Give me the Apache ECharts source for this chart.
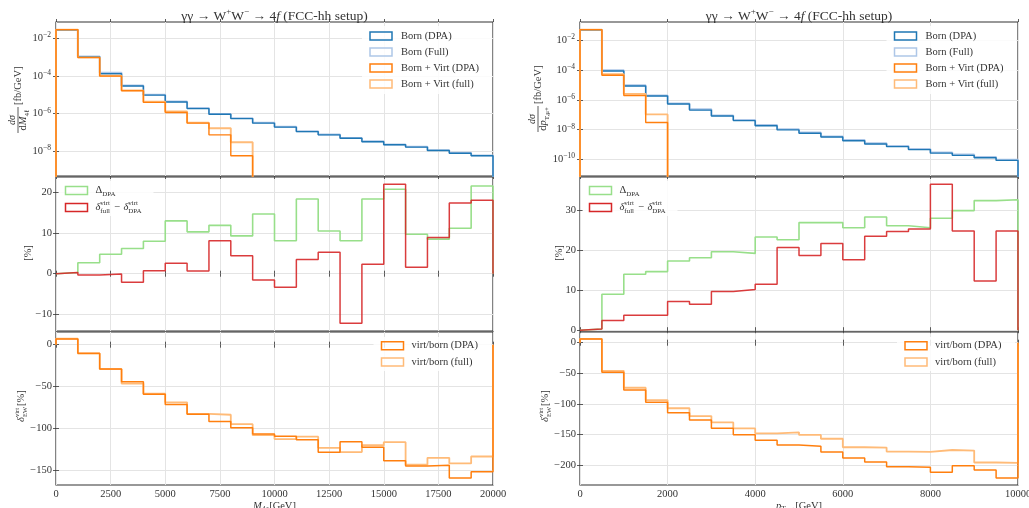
<!DOCTYPE html>
<html>
<head>
<meta charset="utf-8">
<script src="https://cdn.jsdelivr.net/npm/echarts@6/dist/echarts.min.js"></script>
<style>
  html, body { margin: 0; padding: 0; background: #ffffff; }
  #chart { width: 1029px; height: 508px; }
</style>
</head>
<body>
<div id="chart"></div>
<script>
// ---- binning -------------------------------------------------------------
const massEdges = [0, 1000, 2000, 3000, 4000, 5000, 6000, 7000, 8000, 9000, 10000,
                   11000, 12000, 13000, 14000, 15000, 16000, 17000, 18000, 19000, 20000];
const ptEdges = [0, 500, 1000, 1500, 2000, 2500, 3000, 3500, 4000, 4500, 5000,
                 5500, 6000, 6500, 7000, 7500, 8000, 8500, 9000, 9500, 10000];

// ---- tick values ----------------------------------------------------------
const massTicks = [0, 2500, 5000, 7500, 10000, 12500, 15000, 17500, 20000];
const ptTicks = [0, 2000, 4000, 6000, 8000, 10000];
const massXsecTicks = [1e-8, 1e-6, 1e-4, 1e-2];
const ptXsecTicks = [1e-10, 1e-8, 1e-6, 1e-4, 1e-2];
const massDeltaTicks = [-10, 0, 10, 20];
const ptDeltaTicks = [0, 10, 20, 30];
const massVirtTicks = [-150, -100, -50, 0];
const ptVirtTicks = [-200, -150, -100, -50, 0];

// ---- dsigma/dM_4l [fb/GeV] -------------------------------------------------
const massBornDPA = [2.63e-2, 1.02e-3, 1.29e-4, 2.88e-5, 9.5e-6, 4.07e-6, 1.82e-6, 9.1e-7, 5.4e-7, 3.1e-7,
                     1.9e-7, 1.1e-7, 7.4e-8, 4.9e-8, 3.2e-8, 2.2e-8, 1.66e-8, 1.1e-8, 7.9e-9, 5.8e-9];
const massBornFull = [2.63e-2, 1.05e-3, 1.45e-4, 3.1e-5, 1.0e-5, 4.4e-6, 1.95e-6, 9.6e-7, 5.7e-7, 3.3e-7,
                      2.0e-7, 1.15e-7, 7.8e-8, 5.1e-8, 3.4e-8, 2.3e-8, 1.75e-8, 1.15e-8, 8.3e-9, 6.1e-9];
const massVirtDPA = [2.8e-2, 9.2e-4, 9.6e-5, 1.62e-5, 3.9e-6, 1.14e-6, 3.1e-7, 7.4e-8, 5.8e-9];
const massVirtFull = [2.8e-2, 9.4e-4, 1.0e-4, 1.68e-5, 4.2e-6, 1.3e-6, 3.3e-7, 1.66e-7, 3.0e-8];

// ---- dsigma/dpT,mu+ [fb/GeV] -----------------------------------------------
const ptBornDPA = [4.9e-2, 8.7e-5, 8.5e-6, 1.82e-6, 5.2e-7, 2.04e-7, 8.1e-8, 4.0e-8, 1.82e-8, 9.5e-9,
                   5.6e-9, 3.16e-9, 1.78e-9, 1.07e-9, 7.1e-10, 4.5e-10, 2.6e-10, 1.86e-10, 1.29e-10, 8.5e-11];
const ptBornFull = [4.9e-2, 9.8e-5, 9.5e-6, 2.0e-6, 5.8e-7, 2.3e-7, 9.0e-8, 4.5e-8, 2.05e-8, 1.07e-8,
                    6.3e-9, 3.5e-9, 2.0e-9, 1.2e-9, 8.0e-10, 5.0e-10, 2.95e-10, 2.1e-10, 1.45e-10, 9.6e-11];
const ptVirtDPA = [5.2e-2, 4.5e-5, 1.96e-6, 3.0e-8];
const ptVirtFull = [5.2e-2, 5.2e-5, 2.5e-6, 1.05e-7];

// ---- relative differences [%] ---------------------------------------------
const massDeltaDPA = [0.3, 2.7, 4.8, 6.2, 8.0, 13.0, 10.3, 11.9, 9.3, 14.7,
                      8.1, 18.4, 10.5, 8.1, 18.4, 20.8, 9.7, 8.5, 11.2, 21.6];
const massVirtDiff = [0.3, -0.3, -0.1, -2.1, 0.75, 2.55, 0.65, 8.1, 4.4, -1.55,
                      -3.35, 3.5, 5.3, -12.2, 2.3, 22.0, 1.6, 8.9, 17.4, 18.1];
const ptDeltaDPA = [0.3, 9.0, 14.0, 14.65, 17.3, 18.1, 19.6, 19.2, 23.3, 22.6,
                    26.9, 26.9, 25.6, 28.3, 26.1, 25.6, 28.0, 29.9, 32.4, 32.6];
const ptVirtDiff = [0.3, 2.4, 3.75, 3.75, 7.2, 6.5, 9.7, 10.2, 11.5, 20.7,
                    18.7, 21.7, 17.6, 23.5, 24.7, 25.3, 36.5, 24.8, 12.3, 24.8];

// ---- virtual / Born [%] ---------------------------------------------------
const massRatioDPA = [6.8, -10.3, -28.9, -44.2, -59.1, -71.2, -82.9, -91.5, -99.0, -106.2,
                      -109.0, -113.0, -128.0, -115.6, -122.0, -138.0, -144.4, -143.6, -158.7, -151.2];
const massRatioFull = [7.1, -10.6, -29.0, -46.3, -58.4, -68.6, -82.3, -83.4, -94.6, -107.7,
                       -112.3, -109.5, -122.7, -127.8, -119.7, -116.0, -142.8, -134.7, -141.3, -133.1];
const ptRatioDPA = [6.0, -48.4, -77.3, -97.4, -114.3, -126.3, -139.9, -150.3, -159.5, -167.2,
                    -169.3, -178.6, -188.4, -194.9, -202.6, -203.6, -211.8, -201.0, -208.0, -221.0];
const ptRatioFull = [6.3, -46.0, -73.6, -93.7, -107.1, -119.8, -130.2, -140.1, -148.0, -146.5,
                     -150.6, -156.9, -170.8, -171.4, -177.9, -178.3, -175.3, -176.2, -195.7, -196.2];

// ---- style ----------------------------------------------------------------
const SERIF = '"Liberation Serif", "DejaVu Serif", serif';
const INK = '#333333';
const GRIDLINE = '#e4e4e4';
const C = {
  blue: '#1f77b4', lightBlue: '#aec7e8',
  orange: '#ff7f0e', lightOrange: '#ffbb78',
  green: '#98df8a', red: '#d62728'
};
const LOG_FLOOR = 1e-30;   // empty bins on the log panels drop out of view

// Step outline of a histogram, closed to the baseline at both ends.
function stairs(edges, vals, base) {
  const pts = [[edges[0], base]];
  vals.forEach((v, i) => pts.push([edges[i], v]));
  const n = vals.length;
  pts.push([edges[n], vals[n - 1]]);
  pts.push([edges[n], base]);
  return pts;
}

function hist(name, grid, edges, vals, base, color, width, opacity, z) {
  return {
    name, type: 'line', xAxisIndex: grid, yAxisIndex: grid,
    step: 'end', data: stairs(edges, vals, base),
    symbol: 'none', showSymbol: false, silent: true, animation: false,
    clip: true, z: z,
    lineStyle: { color, width, opacity: opacity },
    itemStyle: { color }
  };
}

// ---- layout: two columns, three stacked panels each ------------------------
const cols = [{ left: 56, width: 437 }, { left: 580, width: 438 }];
const rows = [{ top: 22, height: 154 }, { top: 177, height: 154 }, { top: 332, height: 153 }];

const grids = [];
cols.forEach(c => rows.forEach(r => grids.push({
  left: c.left, top: r.top, width: c.width, height: r.height,
  show: true, borderColor: '#333333', borderWidth: 1.2, backgroundColor: 'transparent',
  containLabel: false, outerBoundsMode: 'none'
})));

const labelFont = { fontFamily: SERIF, fontSize: 10.5, color: INK };
const minus = s => String(s).replace('-', '\u2212');
const tickLine = { color: INK, width: 0.8 };

function xAxis(grid, max, ticks, showLabels, nameRich) {
  const ax = {
    type: 'value', gridIndex: grid, min: 0, max: max, position: 'bottom',
    axisLine: { show: false },
    axisTick: { show: true, length: 3, inside: false, customValues: ticks, lineStyle: tickLine },
    axisLabel: Object.assign({ show: showLabels, margin: 4, customValues: ticks, formatter: v => minus(v) }, labelFont),
    splitLine: { show: true, lineStyle: { color: GRIDLINE, width: 1 } }
  };
  if (nameRich) {
    ax.name = nameRich.text;
    ax.nameLocation = 'middle';
    ax.nameGap = 12;
    ax.nameTextStyle = { fontFamily: SERIF, fontSize: 10.5, color: INK, rich: nameRich.rich };
  }
  return ax;
}

function yAxisLinear(grid, min, max, ticks) {
  return {
    type: 'value', gridIndex: grid, min: min, max: max, position: 'left',
    axisLine: { show: false },
    axisTick: { show: true, length: 3, customValues: ticks, lineStyle: tickLine },
    axisLabel: Object.assign({ margin: 4, customValues: ticks, formatter: v => minus(v) }, labelFont),
    splitLine: { show: true, lineStyle: { color: GRIDLINE, width: 1 } }
  };
}

function yAxisLog(grid, minExp, maxExp, ticks) {
  return {
    type: 'log', logBase: 10, gridIndex: grid, position: 'left',
    min: Math.pow(10, minExp), max: Math.pow(10, maxExp),
    axisLine: { show: false },
    axisTick: { show: true, length: 3, customValues: ticks, lineStyle: tickLine },
    axisLabel: Object.assign({
      margin: 5, customValues: ticks,
      formatter: v => '{b|10}{e|' + minus(Math.round(Math.log10(v))) + '}',
      rich: {
        b: { fontFamily: SERIF, fontSize: 10.5, color: INK, lineHeight: 14 },
        e: { fontFamily: SERIF, fontSize: 7.5, color: INK, verticalAlign: 'top', lineHeight: 14 }
      }
    }, labelFont),
    splitLine: { show: true, lineStyle: { color: GRIDLINE, width: 1 } }
  };
}

// tick-only copy of an axis on the opposite side of its panel
function mirror(ax, position) {
  const m = Object.assign({}, ax);
  m.position = position;
  m.name = undefined;
  m.axisLabel = { show: false };
  m.splitLine = { show: false };
  m.axisTick = Object.assign({}, ax.axisTick);
  return m;
}

const subRich = {
  n: { fontFamily: SERIF, fontSize: 10.5, color: INK },
  i: { fontFamily: SERIF, fontSize: 10.5, fontStyle: 'italic', color: INK },
  s: { fontFamily: SERIF, fontSize: 7.5, color: INK, verticalAlign: 'bottom', lineHeight: 15 }
};

const xMain = [
  xAxis(0, 20000, massTicks, false),
  xAxis(1, 20000, massTicks, false),
  xAxis(2, 20000, massTicks, true, { text: '{i|M}{s|4\u2113}{n|[GeV]}', rich: subRich }),
  xAxis(3, 10000, ptTicks, false),
  xAxis(4, 10000, ptTicks, false),
  xAxis(5, 10000, ptTicks, true, { text: '{i|p}{s|T,\u03bc+}{n|[GeV]}', rich: subRich })
];

const yMain = [
  yAxisLog(0, -9.31, -1.15, massXsecTicks),
  yAxisLinear(1, -14.1, 23.8, massDeltaTicks),
  yAxisLinear(2, -167, 15.1, massVirtTicks),
  yAxisLog(3, -11.12, -0.77, ptXsecTicks),
  yAxisLinear(4, -0.2, 38.3, ptDeltaTicks),
  yAxisLinear(5, -232.5, 17.5, ptVirtTicks)
];

const xAxes = xMain.concat(xMain.map(a => mirror(a, 'top')));
const yAxes = yMain.concat(yMain.map(a => mirror(a, 'right')));

const series = [
  // mass column
  hist('Born (Full)', 0, massEdges, massBornFull, LOG_FLOOR, C.lightBlue, 1.9, 1, 2),
  hist('Born (DPA)', 0, massEdges, massBornDPA, LOG_FLOOR, C.blue, 1.4, 1, 3),
  hist('Born + Virt (full)', 0, massEdges, massVirtFull, LOG_FLOOR, C.lightOrange, 1.9, 1, 4),
  hist('Born + Virt (DPA)', 0, massEdges, massVirtDPA, LOG_FLOOR, C.orange, 1.4, 1, 5),
  hist('Delta DPA', 1, massEdges, massDeltaDPA, 0, C.green, 1.6, 1, 2),
  hist('delta full - delta DPA', 1, massEdges, massVirtDiff, 0, C.red, 1.5, 0.9, 3),
  hist('virt/born (full)', 2, massEdges, massRatioFull, 0, C.lightOrange, 1.8, 1, 2),
  hist('virt/born (DPA)', 2, massEdges, massRatioDPA, 0, C.orange, 1.5, 1, 3),
  // transverse-momentum column
  hist('Born (Full)', 3, ptEdges, ptBornFull, LOG_FLOOR, C.lightBlue, 1.9, 1, 2),
  hist('Born (DPA)', 3, ptEdges, ptBornDPA, LOG_FLOOR, C.blue, 1.4, 1, 3),
  hist('Born + Virt (full)', 3, ptEdges, ptVirtFull, LOG_FLOOR, C.lightOrange, 1.9, 1, 4),
  hist('Born + Virt (DPA)', 3, ptEdges, ptVirtDPA, LOG_FLOOR, C.orange, 1.4, 1, 5),
  hist('Delta DPA', 4, ptEdges, ptDeltaDPA, 0, C.green, 1.6, 1, 2),
  hist('delta full - delta DPA', 4, ptEdges, ptVirtDiff, 0, C.red, 1.5, 0.9, 3),
  hist('virt/born (full)', 5, ptEdges, ptRatioFull, 0, C.lightOrange, 1.8, 1, 2),
  hist('virt/born (DPA)', 5, ptEdges, ptRatioDPA, 0, C.orange, 1.5, 1, 3)
];

// ---- text helpers for titles, legends and rotated axis labels --------------
function txt(x, y, text, opt) {
  const style = Object.assign({
    text: text, fill: INK, fontFamily: SERIF, fontSize: 10.5,
    align: 'left', verticalAlign: 'middle', textAlign: 'left', textVerticalAlign: 'middle'
  }, opt || {});
  if (opt && opt.align) style.textAlign = opt.align;
  if (opt && opt.verticalAlign) style.textVerticalAlign = opt.verticalAlign;
  return { type: 'text', x: x, y: y, silent: true, style: style };
}

const gRich = {
  n: { fontFamily: SERIF, fontSize: 10.5, fill: INK, color: INK, lineHeight: 14 },
  i: { fontFamily: SERIF, fontSize: 10.5, fontStyle: 'italic', fill: INK, color: INK, lineHeight: 14 },
  s: { fontFamily: SERIF, fontSize: 7, fill: INK, color: INK, verticalAlign: 'bottom', lineHeight: 15 },
  p: { fontFamily: SERIF, fontSize: 7, fill: INK, color: INK, verticalAlign: 'top', lineHeight: 14 }
};

function richTxt(x, y, text, opt) {
  return txt(x, y, text, Object.assign({ rich: gRich }, opt || {}));
}

function title(cx) {
  const rich = {
    n: { fontFamily: SERIF, fontSize: 13.5, fill: INK, color: INK, lineHeight: 17 },
    i: { fontFamily: SERIF, fontSize: 13.5, fontStyle: 'italic', fill: INK, color: INK, lineHeight: 17 },
    s: { fontFamily: SERIF, fontSize: 9, fill: INK, color: INK, verticalAlign: 'top', lineHeight: 17 }
  };
  return txt(cx, 16, '{n|\u03b3\u03b3 \u2192 W}{s|+}{n|W}{s|\u2212}{n| \u2192 4}{i|f}{n| (FCC-hh setup)}',
             { rich: rich, align: 'center' });
}

function legendKey(x, y, color) {
  return { type: 'rect', silent: true, shape: { x: x, y: y - 4, width: 22, height: 8 },
           style: { fill: 'none', stroke: color, lineWidth: 1.5 } };
}

function legendBack(x, y, w, h) {
  return { type: 'rect', silent: true, shape: { x: x, y: y, width: w, height: h, r: 3 },
           style: { fill: '#ffffff', opacity: 0.85, stroke: 'none' } };
}

function xsecLegend(x) {
  const labels = ['Born (DPA)', 'Born (Full)', 'Born + Virt (DPA)', 'Born + Virt (full)'];
  const colors = [C.blue, C.lightBlue, C.orange, C.lightOrange];
  const els = [legendBack(x - 8, 26, 130, 68)];
  labels.forEach((t, k) => {
    els.push(legendKey(x, 36 + 16 * k, colors[k]));
    els.push(txt(x + 31, 36 + 16 * k, t));
  });
  return els;
}

function deltaLegend(x) {
  const tx = x + 30;
  const y1 = 190.5, y2 = 207.5;
  return [
    legendBack(x - 7, 181, 95, 35),
    legendKey(x, y1, C.green),
    richTxt(tx, y1, '{n|\u0394}{s|DPA}'),
    legendKey(x, y2, C.red),
    txt(tx, y2, '\u03b4', { fontStyle: 'italic' }),
    txt(tx + 4.8, y2 - 4, 'virt', { fontSize: 7 }),
    txt(tx + 4.8, y2 + 4, 'full', { fontSize: 7 }),
    txt(tx + 19, y2, '\u2212'),
    txt(tx + 28, y2, '\u03b4', { fontStyle: 'italic' }),
    txt(tx + 32.8, y2 - 4, 'virt', { fontSize: 7 }),
    txt(tx + 32.8, y2 + 4, 'DPA', { fontSize: 7 })
  ];
}

function ratioLegend(x) {
  return [
    legendBack(x - 8, 337, 118, 34),
    legendKey(x, 345.7, C.orange),
    txt(x + 30, 345.7, 'virt/born (DPA)'),
    legendKey(x, 362, C.lightOrange),
    txt(x + 30, 362, 'virt/born (full)')
  ];
}

// rotated (bottom-to-top) axis titles
function rotated(cx, cy, children) {
  return { type: 'group', x: cx, y: cy, rotation: Math.PI / 2, silent: true, children: children };
}

function xsecLabel(cx, cy, denominator, fracCenter) {
  return rotated(cx, cy, [
    txt(fracCenter, -5.5, 'd\u03c3', { fontStyle: 'italic', align: 'center', fontSize: 10 }),
    { type: 'line', silent: true, shape: { x1: fracCenter - 13, y1: 0, x2: fracCenter + 13, y2: 0 },
      style: { stroke: INK, lineWidth: 0.8 } },
    richTxt(fracCenter, 5.5, denominator, { align: 'center' }),
    txt(fracCenter + 15, 0, '[fb/GeV]')
  ]);
}

function percentLabel(cx, cy) {
  return rotated(cx, cy, [txt(0, 0, '[%]', { align: 'center' })]);
}

function virtLabel(cx, cy) {
  return rotated(cx, cy, [
    txt(-14, 0, '\u03b4', { fontStyle: 'italic' }),
    txt(-9, -3.8, 'virt', { fontSize: 6.5 }),
    txt(-9, 3.8, 'EW', { fontSize: 6.5 }),
    txt(2, 0, '[%]')
  ]);
}

const graphicElements = [].concat(
  [title(274.5), title(799)],
  xsecLegend(370), xsecLegend(894.5),
  deltaLegend(65.5), deltaLegend(589.5),
  ratioLegend(381.5), ratioLegend(905),
  [
    xsecLabel(18, 99, '{n|d}{i|M}{s|4\u2113}', -21),
    xsecLabel(538, 99, '{n|d}{i|p}{s|T,\u03bc+}', -20),
    percentLabel(28, 253),
    percentLabel(559, 253),
    virtLabel(21, 408),
    virtLabel(545, 408)
  ]
);
graphicElements.forEach(e => { e.z = 100; e.zlevel = 0; });

const chart = echarts.init(document.getElementById('chart'), null, { renderer: 'canvas', width: 1029, height: 508 });
chart.setOption({
  animation: false,
  backgroundColor: '#ffffff',
  textStyle: { fontFamily: SERIF },
  grid: grids,
  xAxis: xAxes,
  yAxis: yAxes,
  series: series,
  graphic: { elements: graphicElements }
});
</script>
</body>
</html>
